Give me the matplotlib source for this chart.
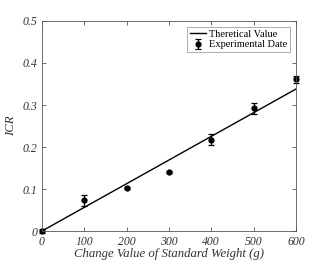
import numpy as np
import matplotlib
matplotlib.use("Agg")
import matplotlib.pyplot as plt

weight = [0, 100, 200, 300, 400, 500, 600]
icr = [0.001, 0.073, 0.102, 0.141, 0.217, 0.292, 0.361]
icr_err = [0.005, 0.014, 0.003, 0.003, 0.013, 0.013, 0.008]

# theoretical line
theo_x = [0, 600]
theo_y = [0.0, 0.338]

plt.rcParams['font.family'] = 'Liberation Serif'

fig = plt.figure(figsize=(3.27, 2.62), dpi=100)
ax = fig.add_axes([0.128, 0.118, 0.777, 0.802])

ax.plot(theo_x, theo_y, color='black', lw=1.0, label='Theretical Value')
eb = ax.errorbar(weight, icr, yerr=icr_err, fmt='o', color='black', ms=3.5,
                 elinewidth=0.9, capsize=2, capthick=0.9, label='Experimental Date')
for art in eb.get_children():
    art.set_clip_on(False)

ax.set_xlim(0, 600)
ax.set_ylim(0, 0.5)
ax.set_xticks([0, 100, 200, 300, 400, 500, 600])
ax.set_yticks([0, 0.1, 0.2, 0.3, 0.4, 0.5])
ax.set_yticklabels(['0', '0.1', '0.2', '0.3', '0.4', '0.5'])
ax.tick_params(direction='in', length=3, width=0.5, top=True, right=True,
               labelsize=8.5, colors='#333333', labelcolor='#333333')
for lab in ax.get_xticklabels() + ax.get_yticklabels():
    lab.set_fontstyle('italic')
for s in ax.spines.values():
    s.set_linewidth(0.6)
    s.set_color('#555555')

ax.set_xlabel('Change Value of Standard Weight (g)', fontsize=9.2, style='italic', labelpad=0, color='#333333')
ax.set_ylabel('ICR', fontsize=9.2, style='italic', labelpad=4, color='#333333')

leg = ax.legend(loc='upper right', fontsize=7.5, frameon=True, fancybox=False,
                edgecolor='#888888', borderpad=0.25, handlelength=1.5,
                handletextpad=0.3, labelspacing=0.1, borderaxespad=0.6)
leg.get_frame().set_linewidth(0.6)

fig.savefig('out.png', dpi=100)
